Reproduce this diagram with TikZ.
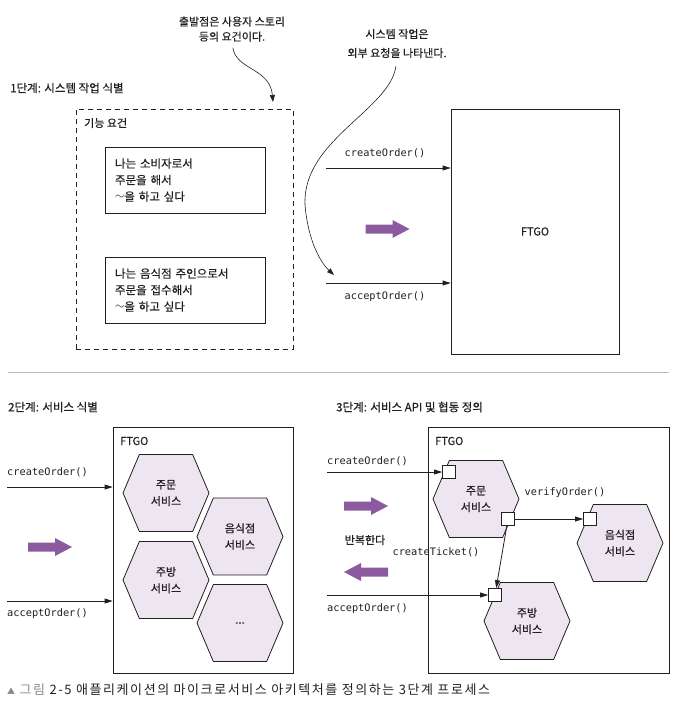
\documentclass[tikz,border=0pt]{standalone}
\usepackage{fontspec}
\setmainfont{Noto Sans CJK KR}[FakeBold=0.5]
\setmonofont{DejaVu Sans Mono}
\newfontfamily\capfont{Noto Sans CJK KR}[LetterSpace=12]
\usepackage{tikz}
\usetikzlibrary{positioning, arrows.meta, shapes.symbols}
\definecolor{ink}{HTML}{231F20}
\definecolor{plum}{HTML}{8C5A9E}
\definecolor{lilac}{HTML}{EDE5EF}
\definecolor{rule}{HTML}{BBBBBB}
\definecolor{note}{HTML}{8A8A8A}

\tikzset{
  fatarrow/.pic={
    \fill[plum] (-22,-4.5) -- (5,-4.5) -- (5,-9) -- (22,0) -- (5,9) -- (5,4.5) -- (-22,4.5) -- cycle;
  }
}

\begin{document}
\begin{tikzpicture}[x=1pt, y=-1pt,
  txt/.style={font=\fontsize{11}{16.5}\selectfont, text=ink, inner sep=0pt},
  head/.style={txt, font=\fontsize{11.5}{14}\selectfont, anchor=west},
  call/.style={txt, align=center},
  op/.style={font=\ttfamily\fontsize{10.3}{12}\selectfont, text=ink, inner sep=0pt},
  sysbox/.style={draw=ink, line width=0.8pt, inner sep=0pt},
  story/.style={sysbox, txt, font=\fontsize{11.5}{16.5}\selectfont, minimum width=160pt,
                minimum height=66pt, text width=140pt, inner xsep=10pt, align=left},
  hexa/.style={shape=signal, signal to=east and west, signal pointer angle=134,
               draw=ink, line width=0.8pt, fill=lilac, minimum width=86pt,
               minimum height=77pt, inner sep=0pt, align=center, txt},
  port/.style={draw=ink, line width=0.8pt, fill=white, minimum size=13pt, inner sep=0pt},
  conn/.style={draw=ink, line width=0.8pt, -{Triangle[length=8pt,width=5pt]}},
  pointer/.style={draw=ink, line width=0.6pt, -{Triangle[length=7pt,width=5pt]}}
]
  \useasboundingbox (0,0) rectangle (677,707);

  % 1단계
  \node[head] (s1) at (10,88) {1단계: 시스템 작업 식별};
  \node[call, font=\fontsize{11}{15}\selectfont] (why) at (232,29) {출발점은 사용자 스토리\\등의 요건이다.};
  \node[call, font=\fontsize{11}{19}\selectfont] (ops) at (397,43.5) {시스템 작업은\\외부 요청을 나타낸다.};

  \node[sysbox, dashed, dash pattern=on 5pt off 4pt, minimum width=217pt, minimum height=240pt] (reqs) at (184.5,229) {};
  \node[txt, anchor=west] (reqt) at (84,123) {기능 요건};
  \node[story] (us1) at (185,180) {나는 소비자로서\\주문을 해서\\\raisebox{0.15em}{$\sim$}을 하고 싶다};
  \node[story] (us2) at (185,290) {나는 음식점 주인으로서\\주문을 접수해서\\\raisebox{0.15em}{$\sim$}을 하고 싶다};

  \node[sysbox, txt, minimum width=168pt, minimum height=245pt] (ftgoA) at (535,231.5) {FTGO};

  \coordinate (inA1) at (326,168);
  \coordinate (inA2) at (326,283);
  \draw[conn] (inA1) -- (inA1 -| ftgoA.west);
  \draw[conn] (inA2) -- (inA2 -| ftgoA.west);
  \node[op] (opA1) at (385,153) {createOrder()};
  \node[op] (opA2) at (385,297) {acceptOrder()};
  \pic at (387.5,229) {fatarrow};

  \coordinate (tipA) at (273,102);
  \coordinate (tipB) at (334,275);
  \draw[pointer, shorten <=6pt] (why.south) .. controls (236,70) and (270,68) .. (tipA);
  \draw[pointer, shorten <=8pt] (ops.south) .. controls (390,110) and (302,140) .. (305,205)
    .. controls (308,240) and (320,262) .. (tipB);

  \draw[rule, line width=0.8pt] (8,372) -- (669,372);

  % 2단계
  \node[head] (s2) at (8,407) {2단계: 서비스 식별};
  \node[sysbox, minimum width=180pt, minimum height=246pt] (ftgoB) at (203,550) {};
  \node[txt, anchor=west] (ftgoBt) at (120,441) {FTGO};
  \node[hexa] (hA) at (166,493) {주문\\서비스};
  \node[hexa] (hB) at (240,536.5) {음식점\\서비스};
  \node[hexa] (hC) at (166,580) {주방\\서비스};
  \node[hexa] (hD) at (240,623) {...};

  \coordinate (inB1) at (7,487);
  \coordinate (inB2) at (7,601);
  \draw[conn] (inB1) -- (inB1 -| ftgoB.west);
  \draw[conn] (inB2) -- (inB2 -| ftgoB.west);
  \node[op, anchor=west] (opB1) at (7,472) {createOrder()};
  \node[op, anchor=west] (opB2) at (7,614) {acceptOrder()};
  \pic at (50,547) {fatarrow};

  % 3단계
  \node[head] (s3) at (336,407) {3단계: 서비스 API 및 협동 정의};
  \node[sysbox, minimum width=241pt, minimum height=246pt] (ftgoC) at (548.5,550) {};
  \node[txt, anchor=west] (ftgoCt) at (435,441) {FTGO};
  \node[hexa] (kA) at (476,499) {주문\\서비스};
  \node[hexa] (kB) at (620,543) {음식점\\서비스};
  \node[hexa] (kC) at (527,621) {주방\\서비스};

  \node[port] (p1) at (449,472) {};
  \node[port] (p2) at (508,519) {};
  \node[port] (p3) at (590,519) {};
  \node[port] (p4) at (495,595) {};

  \coordinate (inC1) at (327,472);
  \coordinate (inC2) at (327,595);
  \draw[conn] (inC1) -- (p1);
  \draw[conn] (inC2) -- (p4);
  \draw[conn] (p2) -- (p3);
  \draw[conn] (p2) -- (p4);
  \node[op, anchor=west] (opC1) at (327,461) {createOrder()};
  \node[op, anchor=west] (opC2) at (327,609) {acceptOrder()};
  \node[op] (opC3) at (565,493) {verifyOrder()};
  \node[op] (opC4) at (436,552) {createTicket()};

  \pic at (366,506) {fatarrow};
  \node[txt] (loop) at (365,540) {반복한다};
  \pic[rotate=180] at (366,572) {fatarrow};

  % 캡션
  \node[head, font=\capfont\fontsize{13}{14}\selectfont] (cap) at (7,690)
    {{\color{note}{\fontsize{8}{8}\selectfont ▲} 그림} 2-5 애플리케이션의 마이크로서비스 아키텍처를 정의하는 3단계 프로세스};
\end{tikzpicture}
\end{document}
